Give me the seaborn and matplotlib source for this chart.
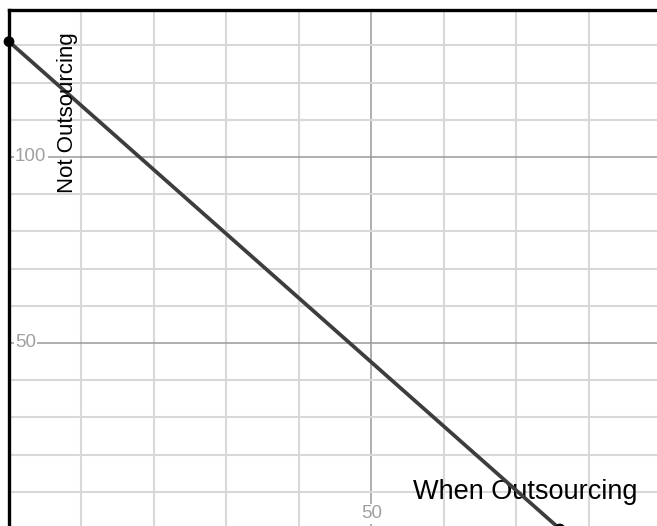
import numpy as np
import pandas as pd
import matplotlib
matplotlib.use("Agg")
import matplotlib.pyplot as plt
import seaborn as sns

# endpoints of the trade-off line
x_pts = [0, 76]
y_pts = [131, 0]
x_ticks = [50]
y_ticks = [50, 100]
x_label = "When Outsourcing"
y_label = "Not Outsourcing"

df = pd.DataFrame({"x": x_pts, "y": y_pts})

sns.set_style("white")
plt.rcParams['font.family'] = ['Liberation Sans', 'DejaVu Sans']

fig = plt.figure(figsize=(6.57, 5.26), dpi=100)
ax = fig.add_axes([9 / 657, 0, 648 / 657, 516 / 526])
ax.set_xlim(0, 89.4)
ax.set_ylim(0.8, 139.5)

# grid: light every 10, darker every 50
for v in np.arange(10, 90, 10):
    major = v in x_ticks
    ax.axvline(v, color="#999999" if major else "#d8d8d8",
               lw=1.1 if major else 1.5, zorder=0)
for v in np.arange(10, 140, 10):
    major = v in y_ticks
    ax.axhline(v, color="#999999" if major else "#d8d8d8",
               lw=1.1 if major else 1.5, zorder=0)

sns.lineplot(data=df, x="x", y="y", ax=ax, color="#3d3d3d", lw=2.7,
             zorder=3, legend=False)
sns.scatterplot(data=df, x="x", y="y", ax=ax, color="black", s=60,
                zorder=4, clip_on=False, edgecolor="none", legend=False)

ax.set_xticks([])
ax.set_yticks([])
ax.set_xlabel("")
ax.set_ylabel("")

box = dict(facecolor="white", edgecolor="none", pad=1)
for v in y_ticks:
    ax.annotate(str(v), xy=(0, v), xytext=(6, 0), textcoords="offset pixels",
                ha="left", va="center", fontsize=13.5, color="#a0a0a0",
                bbox=box, zorder=2)
for v in x_ticks:
    ax.annotate(str(v), xy=(v, 0.8), xytext=(0, 12), textcoords="offset pixels",
                ha="center", va="center", fontsize=13.5, color="#a0a0a0",
                bbox=box, zorder=2)

ax.text(8.1, 111.8, y_label, rotation=90, ha="center", va="center",
        fontsize=16, color="black", zorder=5)
ax.text(71.2, 8.1, x_label, ha="center", va="baseline",
        fontsize=19.5, color="black", zorder=2)

for side in ["right", "bottom"]:
    ax.spines[side].set_visible(False)
for side in ["left", "top"]:
    ax.spines[side].set_color("black")
    ax.spines[side].set_linewidth(2.4)

fig.savefig("out.png", dpi=100)
